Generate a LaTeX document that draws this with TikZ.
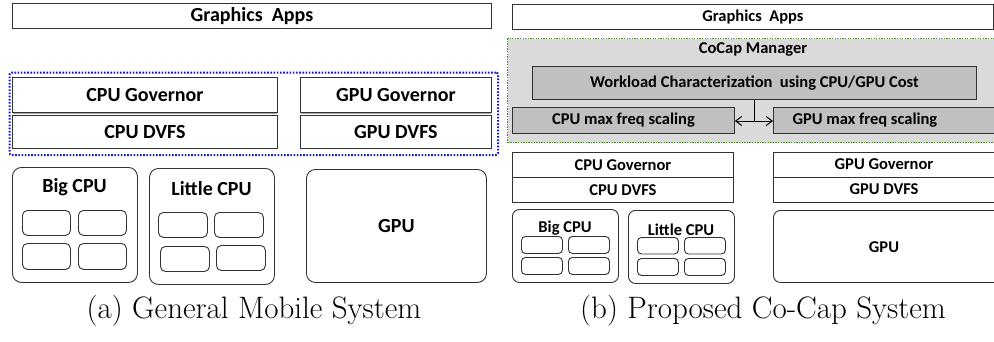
\documentclass[tikz,border=0pt]{standalone}
\usepackage{fontspec}
\setmainfont{Latin Modern Roman}
\newfontfamily\boxfont{Carlito}
\usetikzlibrary{arrows.meta}

\definecolor{edge}{RGB}{50,50,50}
\definecolor{dotblue}{RGB}{20,20,225}
\definecolor{dotgreen}{RGB}{80,130,50}
\definecolor{mgrfill}{RGB}{218,218,218}
\definecolor{unitfill}{RGB}{192,192,192}

\tikzset{
  blk/.style={draw=edge, line width=0.9pt, inner sep=0pt},
  rblk/.style={blk, rounded corners=#1},
  bigtxt/.style={font=\boxfont\bfseries\fontsize{20}{22}\selectfont},
  smalltxt/.style={font=\boxfont\bfseries\fontsize{16.5}{18}\selectfont},
  caption/.style={font=\fontsize{31}{34}\selectfont, inner sep=0pt},
  tip/.style={-{Straight Barb[length=6pt,width=9pt,line width=1pt]}},
}

% box from corner (x1,y1) to (x2,y2), y measured downward
\newcommand{\boxat}[6][]{%
  \node[#1, minimum width={#4-#2}, minimum height={#5-#3}, anchor=north west]
    (#6) at (#2,#3) {};}

\begin{document}
\begin{tikzpicture}[x=1pt,y=-1pt]
\useasboundingbox (0,0) rectangle (994,341);

% ---------- (a) general mobile system ----------
\boxat[blk]{12}{3}{491}{28}{appsA}
\node[bigtxt] at (appsA) {Graphics\ \ Apps};

\boxat[draw=dotblue, line width=2pt, dash pattern=on 1.6pt off 1.6pt, rounded corners=2pt]{8.5}{71.5}{497}{154}{govgroupA}

\boxat[blk]{12}{77}{277}{112.3}{cgovA}
\boxat[blk]{12}{114.7}{277}{148}{cdvfsA}
\boxat[blk]{300}{77}{491}{112.3}{ggovA}
\boxat[blk]{300}{114.7}{491}{148}{gdvfsA}
\fill[gray!70] (12.5,112.7) rectangle (276.5,114.3);
\fill[gray!70] (300.5,112.7) rectangle (490.5,114.3);
\node[bigtxt] at (cgovA) {CPU Governor};
\node[bigtxt] at (cdvfsA) {CPU DVFS};
\node[bigtxt] at (ggovA) {GPU Governor};
\node[bigtxt] at (gdvfsA) {GPU DVFS};

\boxat[rblk=9pt]{12}{167}{137}{282}{bigA}
\node[bigtxt] at (74.5,187) {Big CPU};
\boxat[rblk=5pt]{22}{210}{70}{235}{bigA1}
\boxat[rblk=5pt]{78}{210}{126}{235}{bigA2}
\boxat[rblk=5pt]{22}{243}{70}{269}{bigA3}
\boxat[rblk=5pt]{78}{243}{126}{269}{bigA4}

\boxat[rblk=9pt]{149}{168}{274}{284}{litA}
\node[bigtxt] at (211.5,189) {Little CPU};
\boxat[rblk=5pt]{158}{212}{207}{237}{litA1}
\boxat[rblk=5pt]{214}{212}{263}{237}{litA2}
\boxat[rblk=5pt]{160}{246}{209}{271}{litA3}
\boxat[rblk=5pt]{216}{245}{265}{270}{litA4}

\boxat[rblk=9pt]{306}{169}{486}{282}{gpuA}
\node[bigtxt] at (gpuA) {GPU};

\node[caption] (capA) at (254,311) {(a) General Mobile System};

% ---------- (b) proposed Co-Cap system ----------
\boxat[blk]{512}{3.5}{993}{29}{appsB}
\node[smalltxt] at (appsB) {Graphics\ \ Apps};

\boxat[draw=dotgreen, fill=mgrfill, line width=1.3pt, dash pattern=on 1.3pt off 1.3pt]{507}{38}{1000}{142}{mgrB}
\node[smalltxt] at (753,49) {CoCap Manager};

\boxat[blk, fill=unitfill]{532}{66}{976}{99}{wlB}
\node[smalltxt] at (wlB) {Workload Characterization\ \ using CPU/GPU Cost};

\boxat[blk, fill=unitfill]{512}{107}{734}{132.5}{cmaxB}
\boxat[blk, fill=unitfill]{773}{107}{1000}{132.5}{gmaxB}
\node[smalltxt] at (cmaxB) {CPU max freq scaling};
\node[smalltxt] at (865,120) {GPU max freq scaling};

\coordinate (junc) at (wlB.south |- 0,121);
\draw[line width=1pt] (wlB.south) -- (junc);
\draw[line width=1pt, tip] (junc) -- (cmaxB.east |- junc);
\draw[line width=1pt, tip] (junc) -- (gmaxB.west |- junc);

\boxat[blk]{512}{152}{733}{176.5}{cgovB}
\boxat[blk]{512}{176.5}{733}{202}{cdvfsB}
\boxat[blk]{773}{152}{1000}{176.5}{ggovB}
\boxat[blk]{773}{176.5}{1000}{202}{gdvfsB}
\node[smalltxt] at (cgovB) {CPU Governor};
\node[smalltxt] at (cdvfsB) {CPU DVFS};
\node[smalltxt] at (884,164) {GPU Governor};
\node[smalltxt] at (884,189.5) {GPU DVFS};

\boxat[rblk=7pt]{512}{209}{618}{282}{bigB}
\node[smalltxt] at (565,228.5) {Big CPU};
\boxat[rblk=4pt]{521}{236}{562}{253}{bigB1}
\boxat[rblk=4pt]{568}{236}{609}{253}{bigB2}
\boxat[rblk=4pt]{521}{257}{562}{274}{bigB3}
\boxat[rblk=4pt]{568}{257}{609}{274}{bigB4}

\boxat[rblk=7pt]{628}{210}{734}{283}{litB}
\node[smalltxt] at (681,229.5) {Little CPU};
\boxat[rblk=4pt]{637}{237}{678}{253.5}{litB1}
\boxat[rblk=4pt]{684}{237}{725}{253.5}{litB2}
\boxat[rblk=4pt]{637}{258}{678}{275}{litB3}
\boxat[rblk=4pt]{684}{258}{725}{275}{litB4}

\boxat[rblk=7pt]{773}{210}{1004}{282}{gpuB}
\node[smalltxt] at (884,247) {GPU};

\node[caption] (capB) at (763,311) {(b) Proposed Co-Cap System};
\end{tikzpicture}
\end{document}
